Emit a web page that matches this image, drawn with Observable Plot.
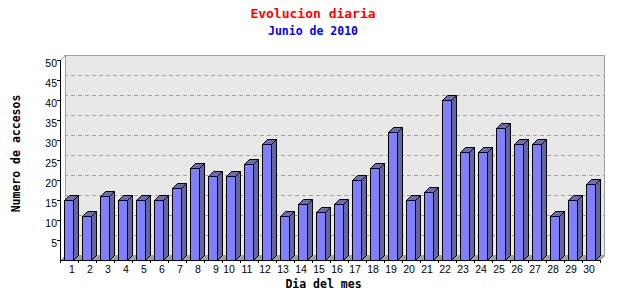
<!DOCTYPE html>
<html>
<head>
<meta charset="utf-8">
<script src="https://cdn.jsdelivr.net/npm/d3@7"></script>
<script src="https://cdn.jsdelivr.net/npm/@observablehq/plot@0.6"></script>
<style>
  html, body { margin: 0; padding: 0; background: #fff; }
  #wrap { position: relative; width: 640px; height: 300px; overflow: hidden; }
  #head { position: relative; width: 640px; height: 44px; }
  .t { position: absolute; left: 0; width: 626px; text-align: center; font-family: "DejaVu Sans Mono", monospace; font-weight: bold; white-space: nowrap; }
  #title { top: 7px; font-size: 13px; line-height: 13px; color: #ff0000; }
  #subtitle { top: 26px; font-size: 11.5px; line-height: 11.5px; color: #0000ff; }
  svg { display: block; }
</style>
</head>
<body>
<div id="wrap">
  <div id="head">
    <div class="t" id="title"></div>
    <div class="t" id="subtitle"></div>
  </div>
  <div id="chart"></div>
</div>
<script>
const titleText = "Evolucion diaria";
const subtitleText = "Junio de 2010";
const xLabel = "Dia del mes";
const yLabel = "Numero de accesos";
const days = [1,2,3,4,5,6,7,8,9,10,11,12,13,14,15,16,17,18,19,20,21,22,23,24,25,26,27,28,29,30];
const visits = [15,11,16,15,15,15,18,23,21,21,24,29,11,14,12,14,20,23,32,15,17,40,27,27,33,29,29,11,15,19];
const yTicks = [5,10,15,20,25,30,35,40,45,50];
const gridTicks = [5,10,15,20,25,30,35,40,45];

document.getElementById("title").textContent = titleText;
document.getElementById("subtitle").textContent = subtitleText;

const data = days.map((d, i) => ({day: d, value: visits[i]}));
const boundaries = d3.range(0, days.length + 1).map(k => k + 0.5);
const DEPTH = 5;

function bars3d(index, scales, values) {
  const g = d3.create("svg:g");
  for (const i of index) {
    const bx = values.x1[i];
    const y0 = values.y1[i];
    const yt = values.y2[i];
    const L = bx + 4.5, R = bx + 13.5, T = yt + 0.5, B = y0 + 0.5;
    g.append("polygon")
      .attr("points", [[R, T], [R + DEPTH, T - DEPTH], [R + DEPTH, B - DEPTH], [R, B]].join(" "))
      .attr("fill", "#65659f").attr("stroke", "#000").attr("stroke-linejoin", "miter");
    g.append("polygon")
      .attr("points", [[L, T], [L + DEPTH, T - DEPTH], [R + DEPTH, T - DEPTH], [R, T]].join(" "))
      .attr("fill", "#6c6cae").attr("stroke", "#000");
    g.append("rect")
      .attr("x", L).attr("y", T).attr("width", R - L).attr("height", B - T)
      .attr("fill", "#8080ff").attr("stroke", "#000");
  }
  return g.node();
}

function floor3d(index, scales, values) {
  const g = d3.create("svg:g");
  const xa = scales.x(0.5), xb = scales.x(30.5);
  const y0 = scales.y(0), y50 = scales.y(50);
  // left side wall
  g.append("polygon")
    .attr("points", [[xa + 0.5, y50 + 0.5], [xa + 0.5 + DEPTH, y50 + 0.5 - DEPTH], [xa + 0.5 + DEPTH, y0 + 0.5 - DEPTH], [xa + 0.5, y0 + 0.5]].join(" "))
    .attr("fill", "#ffffff").attr("stroke", "#a0a0a0");
  // floor
  g.append("polygon")
    .attr("points", [[xa, y0 + 1], [xb, y0 + 1], [xb + DEPTH, y0 + 1 - DEPTH], [xa + DEPTH, y0 + 1 - DEPTH]].join(" "))
    .attr("fill", "#a0a0a0").attr("stroke", "none");
  return g.node();
}

const chart = Plot.plot({
  width: 640,
  height: 256,
  marginLeft: 60,
  marginRight: 40,
  marginTop: 16,
  marginBottom: 40,
  style: {fontFamily: "'Liberation Sans', Arial, sans-serif", fontSize: "10.5px", color: "#000", background: "#fff", overflow: "visible"},
  x: {type: "linear", domain: [0.5, 30.5], axis: null},
  y: {domain: [0, 50], axis: null},
  marks: [
    Plot.frame({fill: "#e8e8e8", stroke: "#a0a0a0", dx: 4, dy: -5}),
    Plot.ruleY(gridTicks, {stroke: "#a0a0a0", strokeOpacity: 1, strokeDasharray: "4,3", dx: 4, dy: -5}),
    Plot.ruleY([0], {render: floor3d}),
    Plot.rectY(data, {x1: d => d.day - 0.5, x2: d => d.day + 0.5, y: "value", render: bars3d}),
    Plot.ruleX([0.5], {y1: 0, y2: 50, stroke: "#000"}),
    Plot.ruleY([0], {x1: 0.5, x2: 30.5, stroke: "#000"}),
    Plot.axisY({ticks: yTicks, tickSize: 3, tickFormat: () => "", label: null}),
    Plot.axisY({ticks: yTicks, tickSize: 0, tickPadding: 3.5, dy: 3.5, tickFormat: d => String(d), label: null}),
    Plot.axisX({ticks: boundaries, tickSize: 3, tickFormat: () => "", label: null}),
    Plot.axisX({ticks: days.filter(d => d < 10), tickSize: 0, tickPadding: 5, dx: 2.5, tickFormat: d => String(d), label: null}),
    Plot.axisX({ticks: days.filter(d => d >= 10), tickSize: 0, tickPadding: 5, dx: -2.5, tickFormat: d => String(d), label: null}),
    Plot.text([xLabel], {text: d => d, frameAnchor: "bottom", textAnchor: "middle", dx: -7, dy: 27.5, fontFamily: "'DejaVu Sans Mono', monospace", fontWeight: "bold", fontSize: 11.5}),
    Plot.text([yLabel], {text: d => d, frameAnchor: "left", textAnchor: "middle", rotate: -90, dx: -44, dy: -7, fontFamily: "'DejaVu Sans Mono', monospace", fontWeight: "bold", fontSize: 11.5})
  ]
});
document.getElementById("chart").appendChild(chart);
</script>
</body>
</html>
